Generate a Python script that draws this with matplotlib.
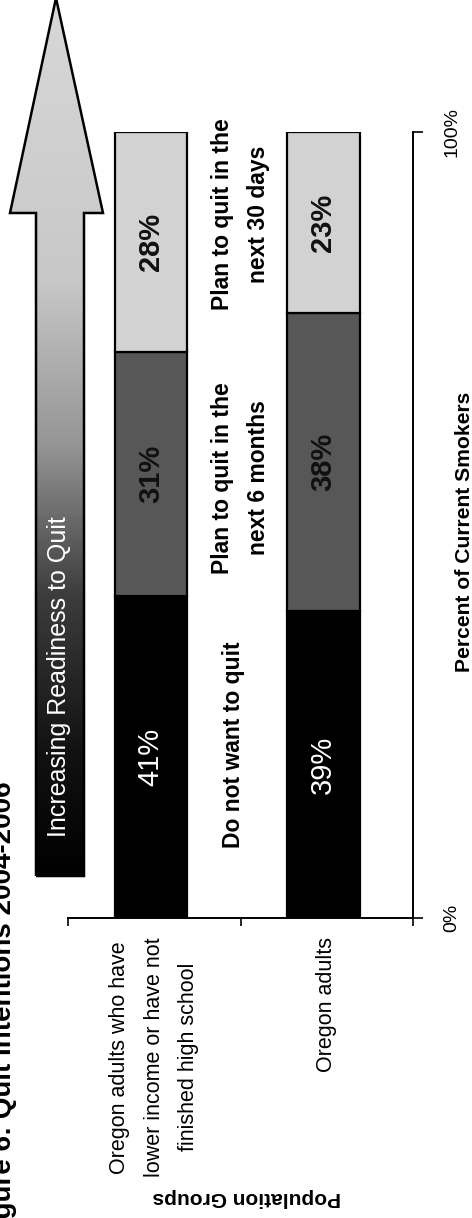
import numpy as np
import matplotlib
matplotlib.use('Agg')
import matplotlib.pyplot as plt
from matplotlib.patches import Polygon
from matplotlib.colors import LinearSegmentedColormap

# --- data -----
groups = ['Oregon adults who have\nlower income or have not\nfinished high school',
          'Oregon adults']
stages = ['Do not want to quit',
          'Plan to quit in the\nnext 6 months',
          'Plan to quit in the\nnext 30 days']
not_quit = [41, 39]
quit_6mo = [31, 38]
quit_30d = [28, 23]
value_ticks = [0, 100]
value_tick_labels = ['0%', '100%']

W, H = 472, 1218
plt.rcParams['font.family'] = ['Liberation Sans', 'DejaVu Sans']
fig = plt.figure(figsize=(W / 100, H / 100), dpi=100)


def fx(px):
    return px / W


def fy(py):
    return 1 - py / H


# --- stacked bars (chart is turned on its side) -----
ax = fig.add_axes([fx(68), fy(918), fx(413) - fx(68), fy(132) - fy(918)])
ax.patch.set_visible(False)

xpos = np.array([0.48, 1.48])
seg_colors = ['#000000', '#575757', '#d2d2d2']
txt_colors = ['white', '#111111', '#111111']
txt_weight = ['normal', 'bold', 'bold']
bottom = np.zeros(len(groups))
for vals, c, tc, tw in zip([not_quit, quit_6mo, quit_30d], seg_colors, txt_colors, txt_weight):
    vals = np.array(vals, dtype=float)
    ax.bar(xpos, vals, width=0.42, bottom=bottom, color=c,
           edgecolor='black', linewidth=1.6, zorder=2)
    for x, b, v in zip(xpos, bottom, vals):
        ax.text(x, b + v / 2, '%d%%' % v, rotation=90, rotation_mode='anchor',
                ha='center', va='center', color=tc, fontsize=21, fontweight=tw, zorder=3)
    bottom += vals

# stage names between the bars
stage_x = [0.96, 1.0, 1.0]
stage_y = [22, 56, 89.5]
for s, x, y in zip(stages, stage_x, stage_y):
    ax.text(x, y, s, rotation=90, rotation_mode='anchor', ha='center', va='center',
            multialignment='center', fontsize=16.5, fontweight='bold', linespacing=1.75)

ax.set_xlim(0, 2)
ax.set_ylim(0, 100)
ax.set_xticks([0, 1, 2])
ax.set_xticklabels([])
ax.set_xticks([0.5, 1.5], groups, minor=True)
ax.tick_params(axis='x', which='major', length=6, width=1.2, direction='out')
ax.tick_params(axis='x', which='minor', length=0, pad=14, labelsize=15.5)
for lab in ax.get_xticklabels(minor=True):
    lab.set_rotation(90)
    lab.set_multialignment('center')
    lab.set_linespacing(1.85)

ax.yaxis.tick_right()
ax.set_yticks(value_ticks, value_tick_labels)
ax.tick_params(axis='y', length=7, width=1.2, pad=15, labelsize=14)
for lab in ax.get_yticklabels():
    lab.set_rotation(90)
    lab.set_va('center')

for side in ['left', 'top']:
    ax.spines[side].set_visible(False)
for side in ['right', 'bottom']:
    ax.spines[side].set_linewidth(1.4)

fig.text(fx(247), fy(1198), 'Population Groups', rotation=180, ha='center', va='center',
         fontsize=15, fontweight='bold')
fig.text(fx(470), fy(532), 'Percent of Current Smokers', rotation=90, rotation_mode='anchor',
         ha='center', va='baseline', fontsize=15.2, fontweight='bold')
fig.text(fx(11), fy(1243), 'Figure 6: Quit Intentions 2004-2006', rotation=90,
         rotation_mode='anchor', ha='left', va='baseline', fontsize=20, fontweight='bold')

# --- readiness arrow -----
ov = fig.add_axes([0, 0, 1, 1])
ov.patch.set_visible(False)
ov.axis('off')
arrow_pts = [(36, 876), (36, 213), (10, 213), (56, -2), (103, 213), (84, 213), (84, 876)]
shape = Polygon(arrow_pts, closed=True, facecolor='none', edgecolor='black', linewidth=1.8, zorder=3)
ov.add_patch(shape)
shade = LinearSegmentedColormap.from_list(
    'readiness', [(0, '#d8d8d8'), (0.32, '#c8c8c8'), (0.51, '#959595'),
                  (0.68, '#3c3c3c'), (0.86, '#111111'), (1, '#000000')])
grad = np.linspace(0, 1, 500).reshape(-1, 1)
img = ov.imshow(grad, extent=[0, 120, 880, -5], aspect='auto', cmap=shade, vmin=0, vmax=1, zorder=2)
img.set_clip_path(shape)
ov.set_xlim(0, W)
ov.set_ylim(H, 0)
ov.text(59, 677, 'Increasing Readiness to Quit', rotation=90, rotation_mode='anchor',
        ha='center', va='center', color='white', fontsize=18, zorder=4)

fig.savefig('out.png', dpi=100)
